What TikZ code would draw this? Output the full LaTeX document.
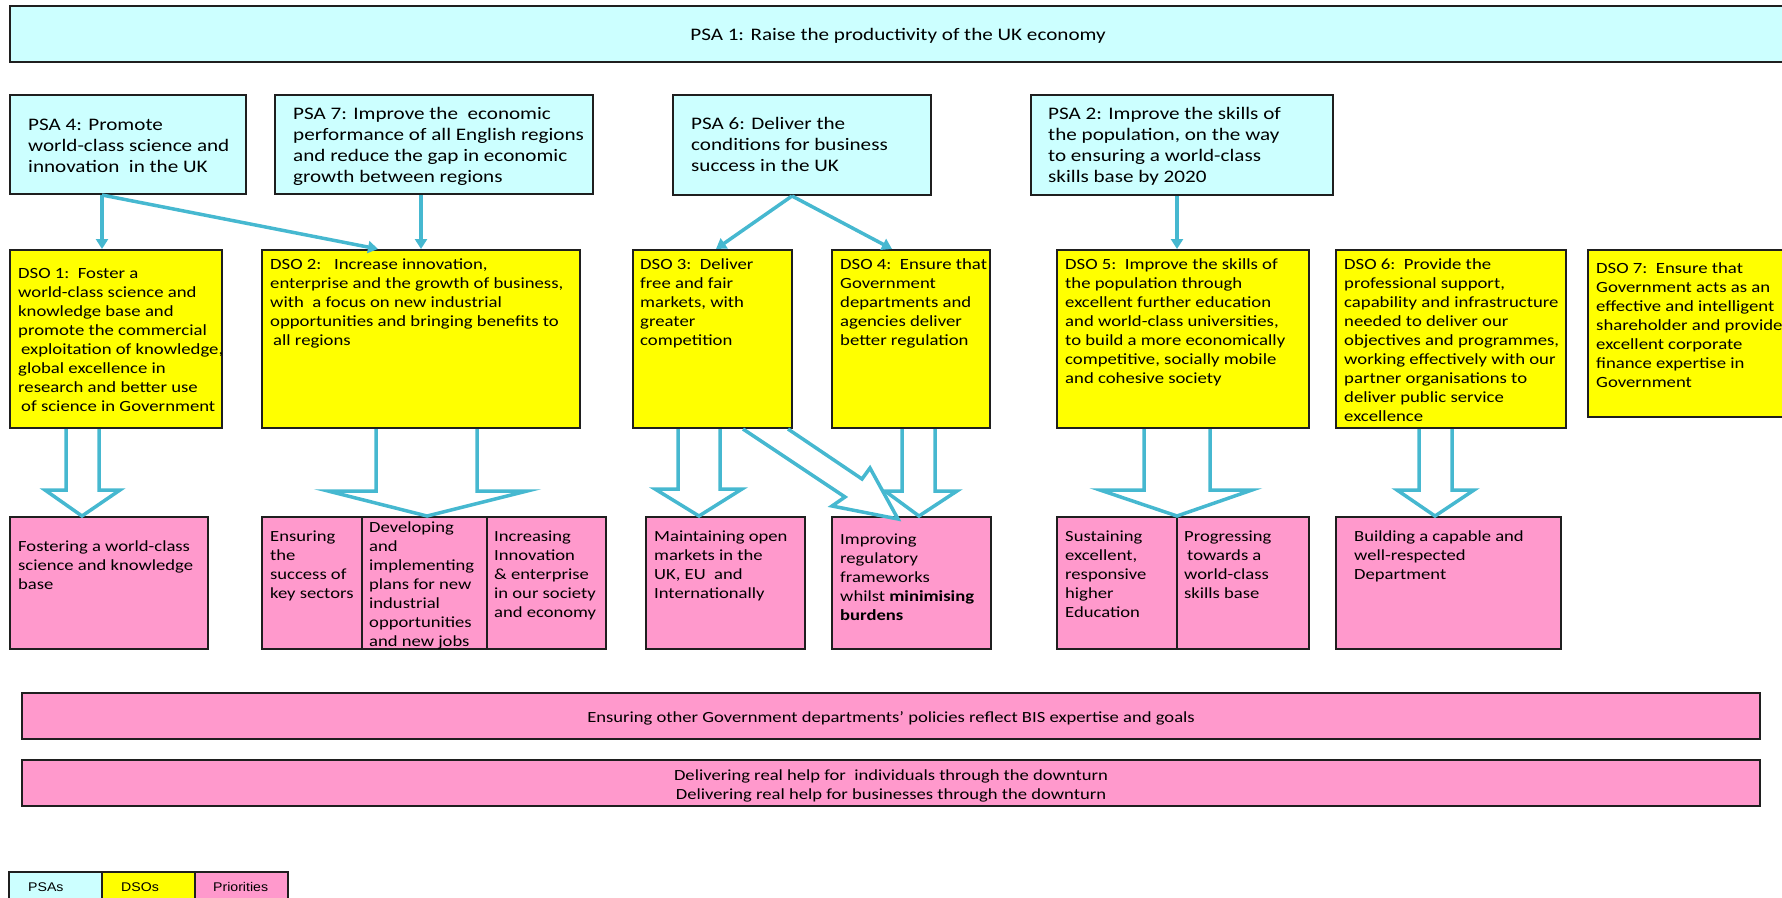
\documentclass[tikz,border=0pt]{standalone}
\usepackage{fontspec}
\setmainfont{Carlito}[FakeStretch=1.2]
\newfontfamily\legfont{Liberation Sans}[FakeStretch=1.12]
\usetikzlibrary{arrows.meta,fit}
\definecolor{psac}{HTML}{CCFFFF}
\definecolor{dsoc}{HTML}{FFFF00}
\definecolor{pric}{HTML}{FF99CC}
\definecolor{arrc}{RGB}{70,184,208}
\begin{document}
\begin{tikzpicture}[x=1pt,y=-1pt,
  box/.style={draw=black!88,line width=2pt,inner sep=0pt},
  psa/.style={box,fill=psac},
  dso/.style={box,fill=dsoc},
  pri/.style={box,fill=pric},
  tpsa/.style={anchor=north west,inner sep=0pt,align=left,font=\fontsize{17.6}{21}\selectfont},
  tdso/.style={anchor=north west,inner sep=0pt,align=left,font=\fontsize{15.6}{19}\selectfont},
  tpri/.style={anchor=north west,inner sep=0pt,align=left,font=\fontsize{15.5}{19}\selectfont},
  tbar/.style={anchor=north,inner sep=0pt,align=center,font=\fontsize{15.5}{19}\selectfont},
  tleg/.style={anchor=base west,inner sep=0pt,font=\legfont\fontsize{12.6}{15}\selectfont},
  conn/.style={draw=arrc,line width=3.5pt,-{Triangle[width=12pt,length=10pt]}},
  blk/.style={draw=arrc,line width=3.5pt},
]
\useasboundingbox (0,0) rectangle (1782,897);
\clip (0,0) rectangle (1782,897);

% ---- PSA row
\node[psa,fit={(9.6,6)(1786,62)}] (p1) {};
\node[psa,fit={(9.6,95)(246,194)}] (p4) {};
\node[psa,fit={(274.5,95)(593,194)}] (p7) {};
\node[psa,fit={(672.5,95)(931,195)}] (p6) {};
\node[psa,fit={(1031,95)(1333,195)}] (p2) {};

\node[anchor=base,inner sep=0pt,font=\fontsize{17.6}{21}\selectfont] (tp1) at (898,40) {PSA 1: Raise the productivity of the UK economy};
\node[tpsa] (tp4) at (28,115.3) {\strut PSA 4: Promote\\world-class science and\\innovation\ \ in the UK};
\node[tpsa] (tp7) at (293,104.3) {\strut PSA 7: Improve the\ \ economic\\performance of all English regions\\and reduce the gap in economic\\growth between regions};
\node[tpsa] (tp6) at (691,114.3) {\strut PSA 6: Deliver the\\conditions for business\\success in the UK};
\node[tpsa] (tp2) at (1048,104.3) {\strut PSA 2: Improve the skills of\\the population, on the way\\to ensuring a world-class\\skills base by 2020};

% ---- DSO row
\node[dso,fit={(9.6,250)(222,428)}] (d1) {};
\node[dso,fit={(261.5,250)(580,428)}] (d2) {};
\node[dso,fit={(633,250)(792,428)}] (d3) {};
\node[dso,fit={(832,250)(990,428)}] (d4) {};
\node[dso,fit={(1057,250)(1309,428)}] (d5) {};
\node[dso,fit={(1336,250)(1566,428)}] (d6) {};
\node[dso,fit={(1588,250)(1795,417)}] (d7) {};

\node[tdso] (td1) at (18,264.7) {\strut DSO 1:\ \ Foster a\\world-class science and\\knowledge base and\\promote the commercial\\\hspace*{3pt}exploitation of knowledge,\\global excellence in\\research and better use\\\hspace*{3pt}of science in Government};
\node[tdso] (td2) at (270,255.7) {\strut DSO 2:\ \ \ Increase innovation,\\enterprise and the growth of business,\\with\ \ a focus on new industrial\\opportunities and bringing benefits to\\\hspace*{3pt}all regions};
\node[tdso] (td3) at (640,255.7) {\strut DSO 3:\ \ Deliver\\free and fair\\markets, with\\greater\\competition};
\node[tdso] (td4) at (840,255.7) {\strut DSO 4:\ \ Ensure that\\Government\\departments and\\agencies deliver\\better regulation};
\node[tdso] (td5) at (1065,255.7) {\strut DSO 5:\ \ Improve the skills of\\the population through\\excellent further education\\and world-class universities,\\to build a more economically\\competitive, socially mobile\\and cohesive society};
\node[tdso] (td6) at (1344,255.7) {\strut DSO 6:\ \ Provide the\\professional support,\\capability and infrastructure\\needed to deliver our\\objectives and programmes,\\working effectively with our\\partner organisations to\\deliver public service\\excellence};
\node[tdso] (td7) at (1596,259.7) {\strut DSO 7:\ \ Ensure that\\Government acts as an\\effective and intelligent\\shareholder and provide\\excellent corporate\\finance expertise in\\Government};

% ---- Priorities row
\node[pri,fit={(10,517)(208,649)}] (f1) {};
\node[pri,fit={(262,517)(362,649)}] (f2a) {};
\node[pri,fit={(362,517)(487,649)}] (f2b) {};
\node[pri,fit={(487,517)(606,649)}] (f2c) {};
\node[pri,fit={(646,517)(805,649)}] (f3) {};
\node[pri,fit={(832,517)(991,649)}] (f4) {};
\node[pri,fit={(1057,517)(1177,649)}] (f5a) {};
\node[pri,fit={(1177,517)(1309,649)}] (f5b) {};
\node[pri,fit={(1336,517)(1561,649)}] (f6) {};

\node[tpri] (tf1) at (18,537.7) {\strut Fostering a world-class\\science and knowledge\\base};
\node[tpri] (tf2a) at (270,527.7) {\strut Ensuring\\the\\success of\\key sectors};
\node[tpri] (tf2b) at (369,518.7) {\strut Developing\\and\\implementing\\plans for new\\industrial\\opportunities\\and new jobs};
\node[tpri] (tf2c) at (494,527.7) {\strut Increasing\\Innovation\\\& enterprise\\in our society\\and economy};
\node[tpri] (tf3) at (654,527.7) {\strut Maintaining open\\markets in the\\UK, EU\ \ and\\Internationally};
\node[tpri] (tf4) at (840,530.7) {\strut Improving\\regulatory\\frameworks\\whilst \textbf{minimising}\\\textbf{burdens}};
\node[tpri] (tf5a) at (1065,527.7) {\strut Sustaining\\excellent,\\responsive\\higher\\Education};
\node[tpri] (tf5b) at (1184,527.7) {\strut Progressing\\\hspace*{3pt}towards a\\world-class\\skills base};
\node[tpri] (tf6) at (1354,527.7) {\strut Building a capable and\\well-respected\\Department};

% ---- bars
\node[pri,fit={(22,693)(1760,739)}] (bar1) {};
\node[pri,fit={(22,760)(1760,806)}] (bar2) {};
\node[tbar] (tb1) at (891,708.7) {\strut Ensuring other Government departments' policies reflect BIS expertise and goals};
\node[tbar] (tb2) at (891,766.7) {\strut Delivering real help for\ \ individuals through the downturn\\Delivering real help for businesses through the downturn};

% ---- legend
\node[psa,line width=1.5pt,fit={(9,872)(102,905)}] (lg1) {};
\node[dso,line width=1.5pt,fit={(102,872)(195,905)}] (lg2) {};
\node[pri,line width=1.5pt,fit={(195,872)(288,905)}] (lg3) {};
\node[tleg] (tl1) at (28,891) {PSAs};
\node[tleg] (tl2) at (121,891) {DSOs};
\node[tleg] (tl3) at (213,891) {Priorities};

% ---- thin arrows
\draw[conn] (102,0 |- p4.south) -- (102,0 |- d1.north);
\draw[conn] (102,0 |- p4.south) -- (378,0 |- d2.north);
\draw[conn] (421,0 |- p7.south) -- (421,0 |- d2.north);
\draw[conn] (792,0 |- p6.south) -- (716,0 |- d3.north);
\draw[conn] (792,0 |- p6.south) -- (892,0 |- d4.north);
\draw[conn] (1177,0 |- p2.south) -- (1177,0 |- d5.north);

% ---- block arrows
\draw[blk] (66,0 |- d1.south) -- (66,490) -- (45,490) -- (82,0 |- f1.north) -- (120,490) -- (99,490) -- (99,0 |- d1.south);
\draw[blk] (376,0 |- d2.south) -- (376,491) -- (328,491) -- (427,0 |- f2b.north) -- (527,491) -- (477,491) -- (477,0 |- d2.south);
\draw[blk] (678,0 |- d3.south) -- (678,489) -- (655,489) -- (699,0 |- f3.north) -- (742,489) -- (720,489) -- (720,0 |- d3.south);
\draw[blk] (743,0 |- d3.south) -- (845,497) -- (832,506) -- (898,519) -- (870,468) -- (862,479) -- (788,0 |- d3.south);
\draw[blk] (902,0 |- d4.south) -- (902,491) -- (885,491) -- (919,0 |- f4.north) -- (957,491) -- (935,491) -- (935,0 |- d4.south);
\draw[blk] (1144,0 |- d5.south) -- (1144,490) -- (1100,490) -- (1177,0 |- f5a.north) -- (1252,490) -- (1210,490) -- (1210,0 |- d5.south);
\draw[blk] (1419,0 |- d6.south) -- (1419,490) -- (1397,490) -- (1435,0 |- f6.north) -- (1474,490) -- (1452,490) -- (1452,0 |- d6.south);
\end{tikzpicture}
\end{document}
